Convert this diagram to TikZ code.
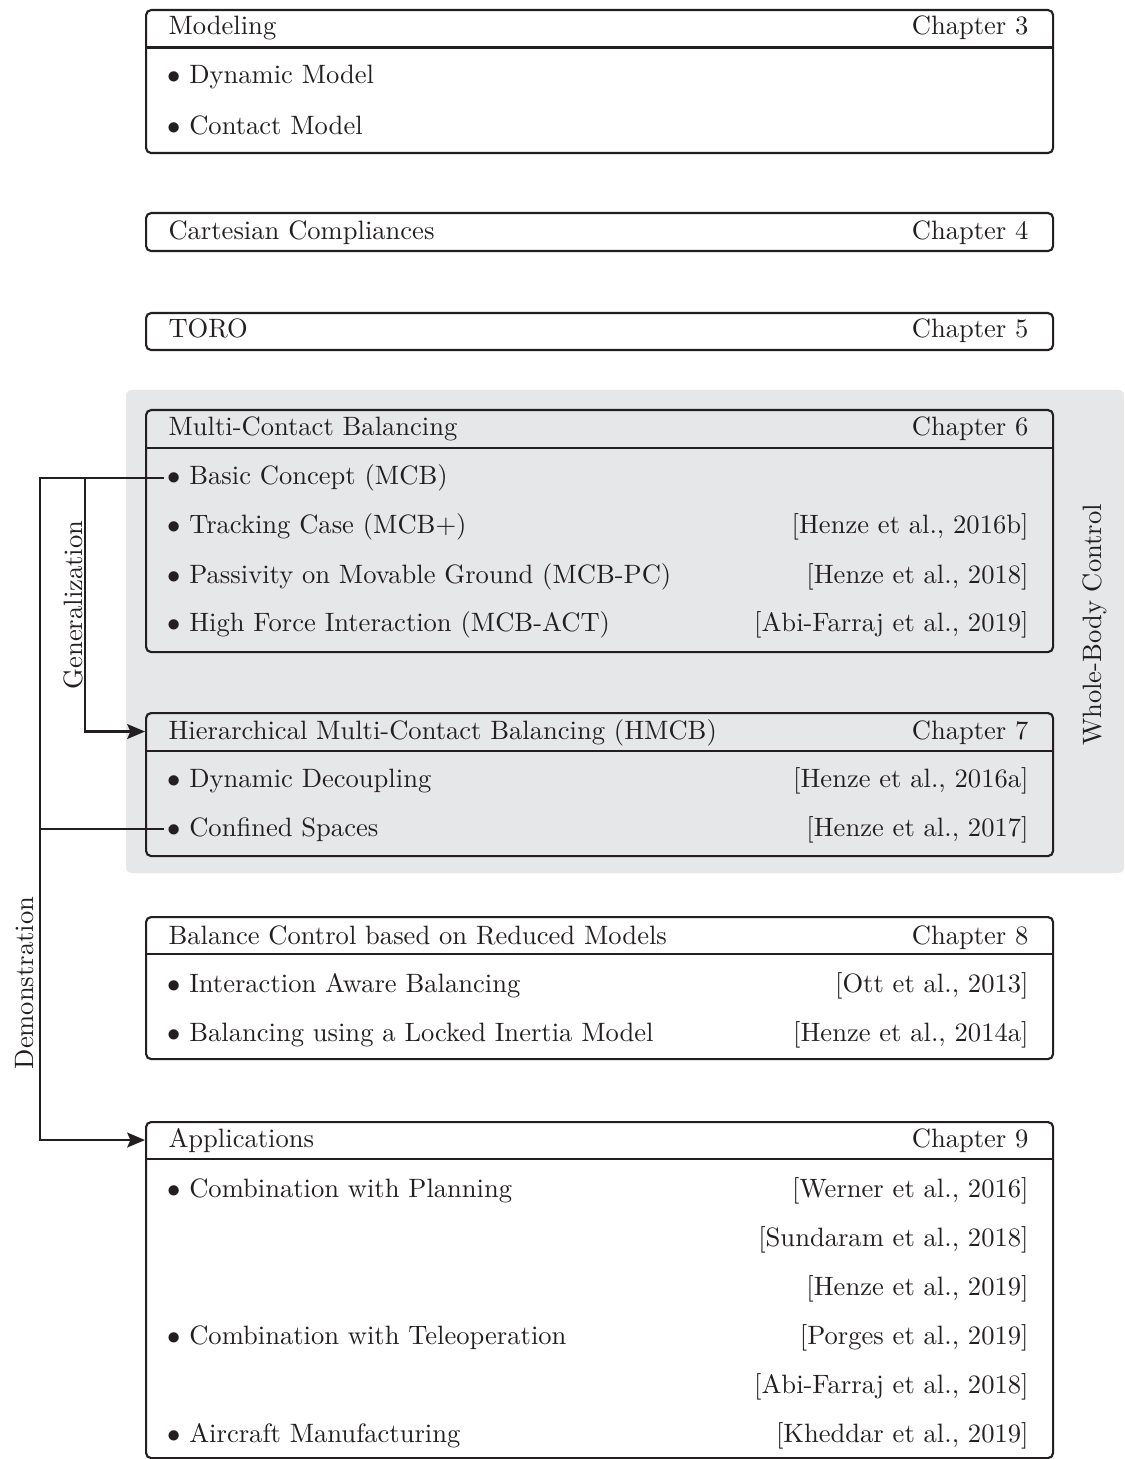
\documentclass[tikz,border=0pt]{standalone}
\usetikzlibrary{arrows.meta}
\definecolor{groupgray}{RGB}{230,231,232}
\definecolor{inkc}{RGB}{35,31,32}
\def\px{0.3765pt}
\begin{document}
\begin{tikzpicture}[x=0.3765pt,y=-0.3765pt,
  frame/.style={draw=inkc, line width=0.8pt, rounded corners=1.9pt, inner sep=0pt,
    anchor=north west, minimum width=907*\px},
  head/.style={inner sep=0pt, anchor=north west, minimum width=907*\px, minimum height=37.5*\px},
  hline/.style={draw=inkc, line width=0.8pt},
  ttl/.style={anchor=base west, inner sep=0pt, text=inkc},
  chap/.style={anchor=base east, inner sep=0pt, text=inkc},
  item/.style={anchor=base west, inner xsep=1pt, inner ysep=0pt, text=inkc},
  cite/.style={anchor=base east, inner sep=0pt, text=inkc},
  conn/.style={draw=inkc, line width=0.8pt},
  arr/.style={conn, -{Stealth[length=6.7pt,width=5.6pt,inset=1.2pt]}},
  side/.style={rotate=90, anchor=base, inner sep=0pt, text=inkc},
]
\useasboundingbox (0,0) rectangle (1124,1459);
\fill[white] (0,0) rectangle (1124,1459);

% whole-body control group
\fill[groupgray, rounded corners=2.2pt] (126,390) rectangle (1124,873);
\node[side] (wbc) at (1101,625) {Whole-Body Control};

% Modeling
\node[frame, minimum height=143*\px] (m) at (145,9) {};
\node[head] (hm) at (145,9) {};
\draw[hline] (hm.south west) -- (hm.south east);
\node[ttl] (tm) at (168,35) {Modeling};
\node[chap] (cm) at (1029,35) {Chapter 3};
\node[item] (m1) at (164,84) {$\bullet$ Dynamic Model};
\node[item] (m2) at (164,135) {$\bullet$ Contact Model};

% Cartesian compliances
\node[frame, minimum height=38*\px] (cc) at (145,212) {};
\node[ttl] (tcc) at (168,240) {Cartesian Compliances};
\node[chap] (ccc) at (1029,240) {Chapter 4};

% TORO
\node[frame, minimum height=37*\px] (to) at (145,312) {};
\node[ttl] (tto) at (168,338) {TORO};
\node[chap] (cto) at (1029,338) {Chapter 5};

% Multi-contact balancing
\node[frame, fill=groupgray, minimum height=242*\px] (mcb) at (145,409) {};
\node[head, minimum height=38*\px] (hmcb) at (145,409) {};
\draw[hline] (hmcb.south west) -- (hmcb.south east);
\node[ttl] (tmcb) at (168,436) {Multi-Contact Balancing};
\node[chap] (cmcb) at (1029,436) {Chapter 6};
\node[item] (b41) at (164,485) {$\bullet$ Basic Concept (MCB)};
\node[item] (b42) at (164,534) {$\bullet$ Tracking Case (MCB+)};
\node[cite] (c42) at (1029,534) {[Henze et al., 2016b]};
\node[item] (b43) at (164,583) {$\bullet$ Passivity on Movable Ground (MCB-PC)};
\node[cite] (c43) at (1029,583) {[Henze et al., 2018]};
\node[item] (b44) at (164,632) {$\bullet$ High Force Interaction (MCB-ACT)};
\node[cite] (c44) at (1029,632) {[Abi-Farraj et al., 2019]};

% Hierarchical multi-contact balancing
\node[frame, fill=groupgray, minimum height=143*\px] (hmc) at (145,712) {};
\node[head, minimum height=38*\px] (h5) at (145,712) {};
\draw[hline] (h5.south west) -- (h5.south east);
\node[ttl] (thmc) at (168,739) {Hierarchical Multi-Contact Balancing (HMCB)};
\node[chap] (chmc) at (1029,739) {Chapter 7};
\node[item] (b51) at (164,787) {$\bullet$ Dynamic Decoupling};
\node[cite] (c51) at (1029,787) {[Henze et al., 2016a]};
\node[item] (b52) at (164,836) {$\bullet$ Confined Spaces};
\node[cite] (c52) at (1029,836) {[Henze et al., 2017]};

% Reduced models
\node[frame, minimum height=142*\px] (rm) at (145,916) {};
\node[head, minimum height=37*\px] (hrm) at (145,916) {};
\draw[hline] (hrm.south west) -- (hrm.south east);
\node[ttl] (trm) at (168,944) {Balance Control based on Reduced Models};
\node[chap] (crm) at (1029,944) {Chapter 8};
\node[item] (b61) at (164,992) {$\bullet$ Interaction Aware Balancing};
\node[cite] (c61) at (1029,992) {[Ott et al., 2013]};
\node[item] (b62) at (164,1041) {$\bullet$ Balancing using a Locked Inertia Model};
\node[cite] (c62) at (1029,1041) {[Henze et al., 2014a]};

% Applications
\node[frame, minimum height=336*\px] (ap) at (145,1121) {};
\node[head, minimum height=37*\px] (h7) at (145,1121) {};
\draw[hline] (h7.south west) -- (h7.south east);
\node[ttl] (tap) at (168,1147) {Applications};
\node[chap] (cap) at (1029,1147) {Chapter 9};
\node[item] (b71) at (164,1197) {$\bullet$ Combination with Planning};
\node[cite] (c71) at (1029,1197) {[Werner et al., 2016]};
\node[cite] (c72) at (1029,1246) {[Sundaram et al., 2018]};
\node[cite] (c73) at (1029,1295) {[Henze et al., 2019]};
\node[item] (b74) at (164,1344) {$\bullet$ Combination with Teleoperation};
\node[cite] (c74) at (1029,1344) {[Porges et al., 2019]};
\node[cite] (c75) at (1029,1393) {[Abi-Farraj et al., 2018]};
\node[item] (b76) at (164,1442) {$\bullet$ Aircraft Manufacturing};
\node[cite] (c76) at (1029,1442) {[Kheddar et al., 2019]};

% connectors
\coordinate (gcol) at (85,0);
\coordinate (dcol) at (40,0);
\draw[arr] (b41.west) -- (b41.west -| gcol) |- (h5.west);
\draw[arr] (b41.west) -- (b41.west -| dcol) |- (h7.west);
\draw[conn] (b52.west) -- (b52.west -| dcol);
\node[side] (gen) at (82,605) {Generalization};
\node[side] (dem) at (33,983) {Demonstration};
\end{tikzpicture}
\end{document}
